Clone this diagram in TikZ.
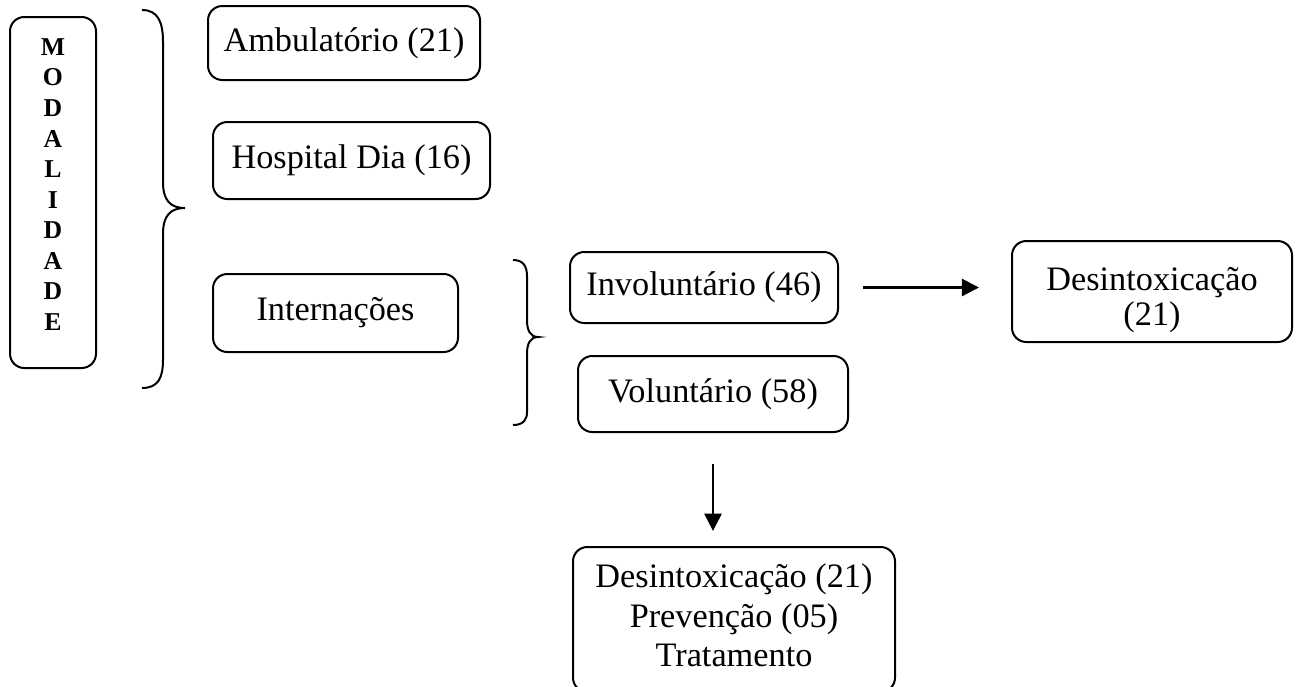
\documentclass[tikz,border=0pt]{standalone}
\usepackage{fontspec}
\setmainfont{Liberation Serif}
\usetikzlibrary{arrows.meta}

\begin{document}
\begin{tikzpicture}[x=0.35pt,y=-0.35pt]
    \tikzset{box/.style={draw, rounded corners=5pt, line width=0.7pt, align=center, inner sep=0pt,
        font=\fontsize{12}{13.8}\selectfont},
        brace/.style={line width=0.7pt},
        seta/.style={line width=0.75pt, -{Triangle[length=6pt,width=6pt]}}}
    \useasboundingbox (0,0) rectangle (1300,686);
    \node [box, minimum width=86*0.35pt, minimum height=351*0.35pt,
        font=\fontsize{9}{10.7}\selectfont\bfseries] (modal) at (53,192.5)
        {\raisebox{2pt}[\height][\depth]{\begin{tabular}{@{}c@{}}M\\O\\D\\A\\L\\I\\D\\A\\D\\E\end{tabular}}};
    \node [box, minimum width=272*0.35pt, minimum height=74*0.35pt] (amb) at (344,43) {Ambulatório (21)};
    \node [box, minimum width=277*0.35pt, minimum height=77*0.35pt] (hosp) at (351.5,160.5) {Hospital Dia (16)};
    \node [box, minimum width=245*0.35pt, minimum height=78*0.35pt] (intern) at (335.5,313) {Internações};
    \node [box, minimum width=268*0.35pt, minimum height=71*0.35pt] (invol) at (704,287.5) {Involuntário (46)};
    \node [box, minimum width=270*0.35pt, minimum height=76*0.35pt] (vol) at (713,394) {Voluntário (58)};
    \node [box, minimum width=280*0.35pt, minimum height=101*0.35pt, font=\fontsize{12}{12.3}\selectfont]
        (desint) at (1152,291.5)
        {\raisebox{-3.2pt}[\height][\depth]{\begin{tabular}{@{}c@{}}Desintoxicação\\(21)\end{tabular}}};
    \node [box, minimum width=322*0.35pt, minimum height=145*0.35pt] (trat) at (734,619.5)
        {\begin{tabular}{@{}c@{}}Desintoxicação (21)\\Prevenção (05)\\Tratamento\end{tabular}};
    \draw [brace] (142,10) .. controls (158,10) and (163,22) .. (163,42) -- (163,182)
        .. controls (163,200) and (170,208) .. (185,208)
        .. controls (170,208) and (163,216) .. (163,234) -- (163,360)
        .. controls (163,378) and (158,388) .. (142,388);
    \draw [brace] (513,260) .. controls (523,260) and (527,266) .. (527,276) -- (527,320)
        .. controls (527,330) and (530,337) .. (538,337)
        .. controls (530,337) and (527,344) .. (527,354) -- (527,412)
        .. controls (527,420) and (523,425) .. (513,425);
    \draw [seta, shorten <=8.4pt, shorten >=11.2pt] (invol.east) -- (invol.east -| desint.west);
    \draw [seta, shorten <=10.9pt, shorten >=5.3pt] (vol.south) -- (vol.south |- trat.north);
\end{tikzpicture}
\end{document}
